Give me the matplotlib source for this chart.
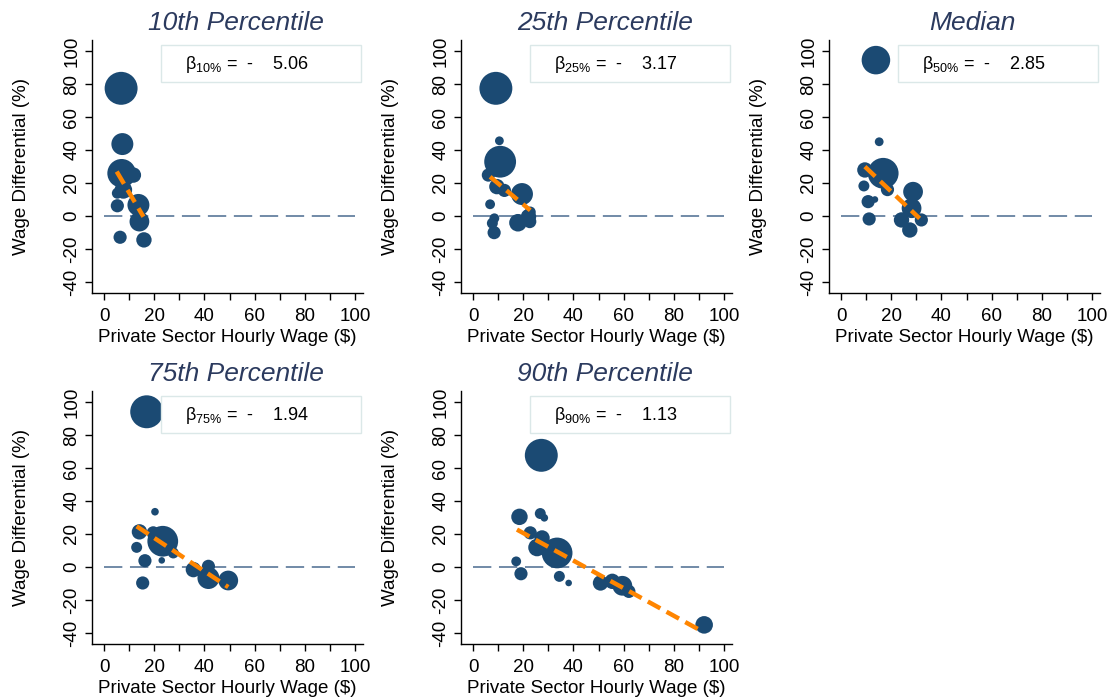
import numpy as np
import matplotlib
matplotlib.use('Agg')
import matplotlib.pyplot as plt
from matplotlib.patches import Rectangle

plt.rcParams['font.family'] = ['Liberation Sans', 'DejaVu Sans']
plt.rcParams['mathtext.fontset'] = 'custom'
plt.rcParams['mathtext.rm'] = 'Liberation Sans'
plt.rcParams['axes.unicode_minus'] = False

TITLES = ['10th Percentile', '25th Percentile', 'Median', '75th Percentile', '90th Percentile']
SUBS = ['10', '25', '50', '75', '90']
BETAS = ['5.06', '3.17', '2.85', '1.94', '1.13']

# private wage ($), wage differential (%), bubble weight
p10_x = [6.8, 7.3, 7.0, 11.7, 7.7, 5.3, 5.3, 13.7, 14.1, 6.4, 15.9]
p10_y = [77.4, 43.6, 25.9, 24.8, 15.8, 13.8, 6.2, 6.7, -3.4, -12.9, -14.5]
p10_w = [225, 100, 169, 49, 64, 25, 36, 100, 81, 36, 49]

p25_x = [9.1, 10.5, 10.8, 6.1, 9.5, 12.5, 19.5, 6.8, 8.5, 7.7, 8.4, 17.9, 22.1, 22.8, 22.6]
p25_y = [77.4, 45.6, 32.9, 24.8, 17.8, 15.5, 13.3, 7.1, -1.4, -4.4, -10.1, -4.1, -0.4, 2.4, -3.4]
p25_w = [225, 16, 210, 36, 49, 36, 100, 20, 20, 25, 36, 64, 49, 25, 36]

p50_x = [13.9, 15.2, 16.8, 9.5, 9.1, 10.8, 11.2, 28.7, 28.1, 24.1, 27.4, 32.0, 13.5, 18.5]
p50_y = [94.5, 45.0, 25.9, 27.9, 18.2, 8.7, -1.8, 14.7, 4.7, -2.4, -8.5, -2.4, 10.0, 16.0]
p50_w = [169, 16, 196, 49, 25, 36, 36, 81, 81, 49, 49, 36, 9, 36]

p75_x = [17.0, 20.3, 14.1, 23.4, 19.6, 13.0, 16.3, 23.0, 27.6, 15.4, 35.6, 41.6, 41.6, 49.5]
p75_y = [94.1, 33.5, 21.3, 15.6, 20.7, 11.9, 3.8, 4.0, 8.5, -9.7, -1.6, 0.4, -6.7, -8.2]
p75_w = [225, 12, 49, 196, 36, 25, 36, 9, 25, 36, 49, 36, 100, 81]

p90_x = [27.2, 18.5, 26.8, 28.4, 22.8, 27.5, 25.5, 33.5, 17.2, 19.1, 34.4, 38.1,
         50.8, 55.5, 59.5, 62.1, 92.1]
p90_y = [67.7, 30.4, 32.4, 29.8, 20.7, 17.6, 11.8, 8.5, 3.4, -4.1, -5.7, -9.7,
         -9.7, -8.7, -11.4, -14.8, -35.1]
p90_w = [225, 56, 25, 12, 36, 49, 64, 196, 20, 36, 25, 9, 49, 49, 81, 36, 64]

# fitted line: intercept, slope, x start, x end
fit_p10 = (39.9, -2.57, 5.05, 15.7)
fit_p25 = (32.4, -1.27, 6.8, 22.8)
fit_p50 = (43.6, -1.44, 9.5, 31.3)
fit_p75 = (37.8, -1.01, 13.0, 49.5)
fit_p90 = (37.3, -0.836, 17.5, 91.5)

PANELS = [(p10_x, p10_y, p10_w, fit_p10), (p25_x, p25_y, p25_w, fit_p25),
          (p50_x, p50_y, p50_w, fit_p50), (p75_x, p75_y, p75_w, fit_p75),
          (p90_x, p90_y, p90_w, fit_p90)]

W, H = 1117, 700
BLUE = '#1b4a73'
NAVY = '#2b3a5e'
ORANGE = '#ff8500'
FS = 13.5

fig = plt.figure(figsize=(W / 100, H / 100), dpi=100)

lefts = [92, 461, 829, 92, 461]
tops = [40, 40, 40, 391, 391]
aw, ah = 271, 253

for i, (xs, ys, ws, fit) in enumerate(PANELS):
    ax = fig.add_axes([lefts[i] / W, 1 - (tops[i] + ah) / H, aw / W, ah / H])
    ax.set_xlim(-4.8, 103.2)
    ax.set_ylim(-46.7, 106.7)
    for s in ['top', 'right']:
        ax.spines[s].set_visible(False)
    ax.spines['left'].set_linewidth(1.0)
    ax.spines['bottom'].set_linewidth(1.0)

    ax.plot([0, 100], [0, 0], color='#4a6b8f', lw=1.1, dashes=(12, 5), zorder=1)
    ax.scatter(xs, ys, s=np.array(ws) * 2.5, color=BLUE, edgecolors='none', zorder=2)

    a, b, x0, x1 = fit
    fx = np.array([x0, x1])
    ax.plot(fx, a + b * fx, color=ORANGE, lw=3.2, dashes=(3.2, 1.6), zorder=3)

    ax.set_xticks(np.arange(0, 101, 20))
    ax.set_xticks(np.arange(10, 100, 20), minor=True)
    ax.set_yticks(np.arange(-40, 101, 20))
    ax.tick_params(axis='both', which='both', direction='out', length=5, width=1, labelsize=FS)
    ax.tick_params(axis='x', which='both', pad=6)
    for lab in ax.get_yticklabels():
        lab.set_rotation(90)
        lab.set_va('center')

    ax.set_xlabel('Private Sector Hourly Wage ($)', fontsize=FS, labelpad=3)
    ax.set_ylabel('Wage Differential (%)', fontsize=FS, labelpad=24)
    ax.set_title(TITLES[i], fontsize=19, style='italic', color=NAVY, pad=7, x=0.53)

    ax.add_patch(Rectangle((0.256, 0.834), 0.735, 0.146, transform=ax.transAxes,
                           facecolor='white', edgecolor='#dbe8e8', lw=1, zorder=4))
    ax.text(0.345, 0.905, r'$\mathregular{\beta_{%s\%%}}$ =  -    %s' % (SUBS[i], BETAS[i]),
            transform=ax.transAxes, fontsize=13, va='center', ha='left', zorder=5)

fig.savefig('out.png', dpi=100)
